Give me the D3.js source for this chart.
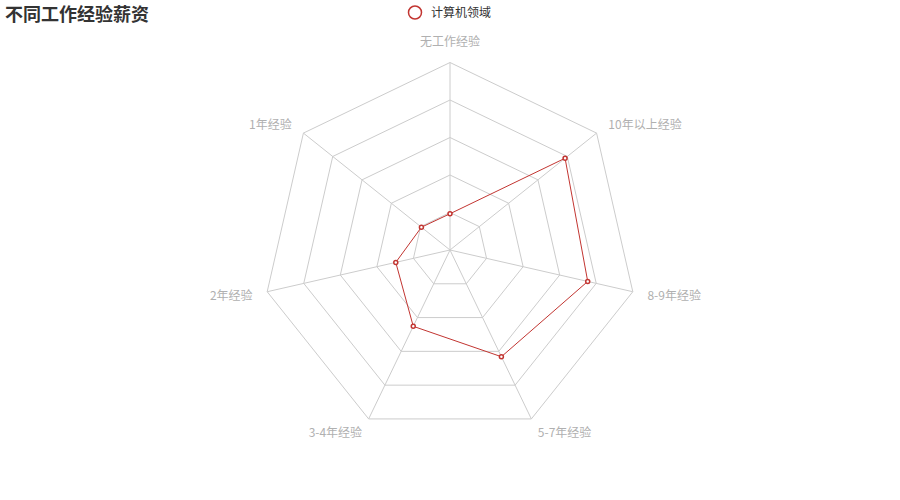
<!DOCTYPE html>
<html>
<head>
<meta charset="utf-8">
<script src="https://cdn.jsdelivr.net/npm/d3@7/dist/d3.min.js"></script>
<style>
html,body{margin:0;padding:0;background:#fff;}
svg{display:block;font-family:"Noto Sans CJK SC","Noto Sans",sans-serif;}
</style>
</head>
<body>
<svg id="chart" width="900" height="500"></svg>
<script>
const titleText = "不同工作经验薪资";
const seriesName = "计算机领域";
const indicators = ["无工作经验","1年经验","2年经验","3-4年经验","5-7年经验","8-9年经验","10年以上经验"];
const maxValue = 30000;
const values = [5800, 5850, 8900, 13550, 18950, 22600, 23550];
const ringCount = 5;

const W = 900, H = 500;
const cx = W/2, cy = H/2;
const R = Math.min(W,H)/2*0.75;
const svg = d3.select("#chart");
const color = "#c23531";

const rScale = d3.scaleLinear().domain([0, maxValue]).range([0, R]);
const n = indicators.length;
const angle = d3.scaleLinear().domain([0, n]).range([0, -2*Math.PI]); // counterclockwise from top
function pos(i, r){ const a = angle(i); return [cx + r*Math.sin(a), cy - r*Math.cos(a)]; }

const g = svg.append("g");
// rings
const ringVals = d3.range(1, ringCount+1).map(k => maxValue*k/ringCount);
g.selectAll("polygon.ring").data(ringVals).join("polygon")
  .attr("class","ring")
  .attr("points", v => d3.range(n).map(i => pos(i, rScale(v)).join(",")).join(" "))
  .attr("fill","none").attr("stroke","#cccccc").attr("stroke-width",1);
// axes
g.selectAll("line.axis").data(d3.range(n)).join("line")
  .attr("class","axis")
  .attr("x1",cx).attr("y1",cy)
  .attr("x2", i => pos(i,R)[0]).attr("y2", i => pos(i,R)[1])
  .attr("stroke","#cccccc").attr("stroke-width",1);
// labels
const gap = 15;
g.selectAll("text.ind").data(indicators).join("text")
  .attr("class","ind")
  .attr("x",(d,i)=>pos(i,R+gap)[0])
  .attr("y",(d,i)=>{ const p = pos(i,R+gap); return i===0 ? p[1]-2 : p[1]+5; })
  .attr("text-anchor",(d,i)=>{ const x = pos(i,R)[0]-cx; return Math.abs(x)<1?"middle":(x<0?"end":"start"); })
  .attr("font-size",12).attr("fill","#b0b0b0")
  .text(d=>d);

// series
const line = d3.line().curve(d3.curveLinearClosed);
g.append("path")
  .attr("d", line(values.map((v,i)=>pos(i, rScale(v)))))
  .attr("fill","none").attr("stroke",color).attr("stroke-width",1);
g.selectAll("circle.pt").data(values).join("circle")
  .attr("class","pt")
  .attr("cx",(v,i)=>pos(i,rScale(v))[0])
  .attr("cy",(v,i)=>pos(i,rScale(v))[1])
  .attr("r",2).attr("fill","#fff").attr("stroke",color).attr("stroke-width",1.5);

// title
svg.append("text").attr("x",5).attr("y",21)
  .attr("font-size",18).attr("font-weight","bold").attr("fill","#333")
  .text(titleText);
// legend
svg.append("circle").attr("cx",415).attr("cy",12.5).attr("r",6.5)
  .attr("fill","#fff").attr("stroke",color).attr("stroke-width",1.5);
svg.append("text").attr("x",431).attr("y",17)
  .attr("font-size",12).attr("fill","#333").text(seriesName);
</script>
</body>
</html>
